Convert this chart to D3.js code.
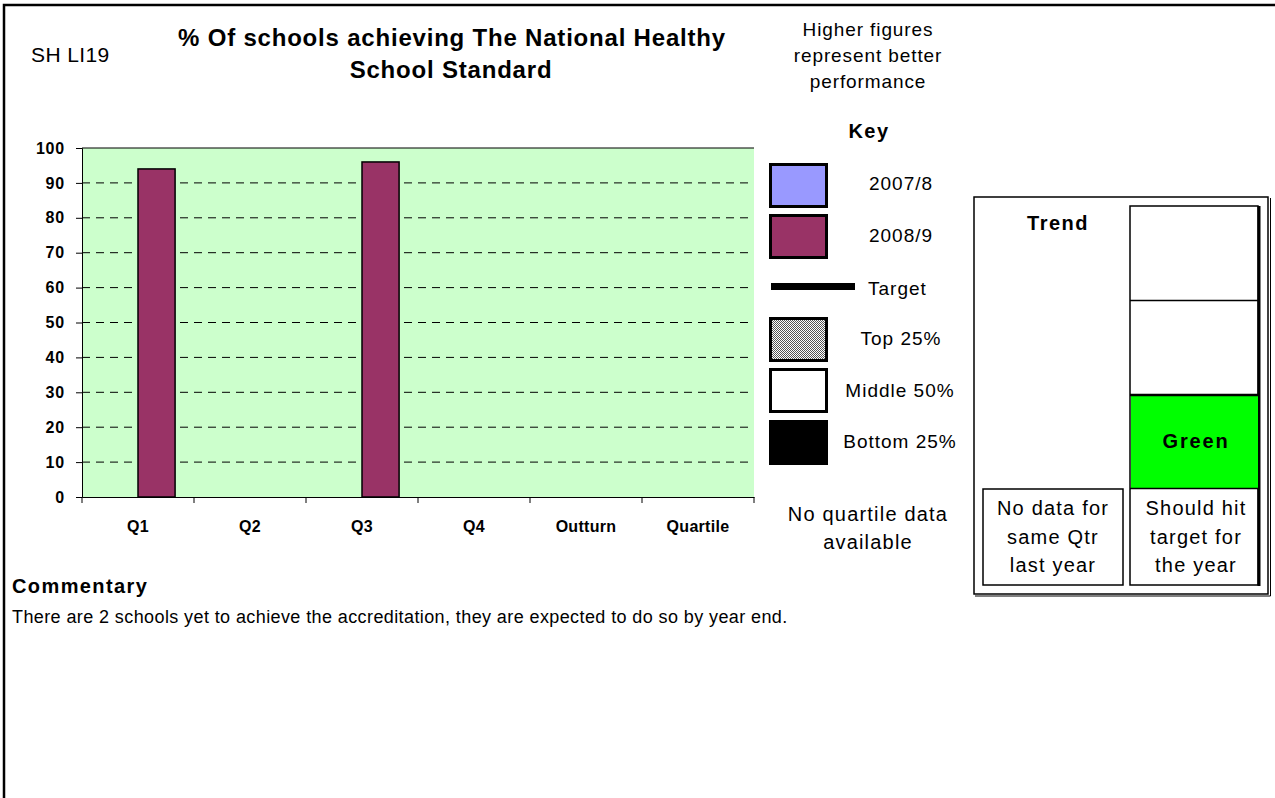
<!DOCTYPE html>
<html>
<head>
<meta charset="utf-8">
<script src="https://cdn.jsdelivr.net/npm/d3@7"></script>
<style>
  body { margin: 0; background: #fff; }
  text { font-family: "Liberation Sans", Arial, sans-serif; fill: #000; }
</style>
</head>
<body>
<div id="chart"></div>
<script>
// ----- data -------
const categories = ["Q1", "Q2", "Q3", "Q4", "Outturn", "Quartile"];
const seriesNames = ["2007/8", "2008/9"];
const values2007 = [null, null, null, null, null, null];
const values2008 = [94, null, 96, null, null, null];
const yTicks = [0, 10, 20, 30, 40, 50, 60, 70, 80, 90, 100];
const seriesColors = ["#9999ff", "#993366"];

const svg = d3.select("#chart").append("svg").attr("width", 1275).attr("height", 798);

// small helper for the plain text labels
function label(x, y, str, size, opts) {
  opts = opts || {};
  return svg.append("text")
    .attr("x", x).attr("y", y)
    .attr("text-anchor", opts.anchor || "start")
    .style("font-size", size + "px")
    .style("font-weight", opts.bold ? "bold" : "normal")
    .style("letter-spacing", (opts.ls || 0) + "px")
    .text(str);
}

// ----- page frame -------
svg.append("path")
  .attr("d", "M4,798 L4,5 L1275,5")
  .attr("fill", "none")
  .attr("stroke", "black")
  .attr("stroke-width", 2.5);

// ----- titles -------
label(31, 62, "SH LI19", 21, { ls: 0.4 });
label(452, 46, "% Of schools achieving The National Healthy", 24, { anchor: "middle", bold: true, ls: 0.8 });
label(451, 78, "School Standard", 24, { anchor: "middle", bold: true, ls: 0.8 });

["Higher figures", "represent better", "performance"].forEach((t, i) => {
  label(868, 36 + i * 26, t, 19, { anchor: "middle", ls: 0.9 });
});

// ----- chart -------
const plot = { left: 82, right: 754, top: 148, bottom: 497 };

const x = d3.scaleBand().domain(categories).range([plot.left, plot.right]);
const xs = d3.scaleBand().domain(seriesNames).range([0, x.bandwidth()]).paddingInner(0).paddingOuter(0.51);
const y = d3.scaleLinear().domain([0, 100]).range([plot.bottom, plot.top]);

svg.append("rect")
  .attr("x", plot.left).attr("y", plot.top)
  .attr("width", plot.right - plot.left).attr("height", plot.bottom - plot.top)
  .attr("fill", "#ccffcc");

// gridlines
svg.append("g").selectAll("line")
  .data(yTicks.filter(d => d > 0 && d < 100))
  .join("line")
  .attr("x1", plot.left).attr("x2", plot.right)
  .attr("y1", d => y(d)).attr("y2", d => y(d))
  .attr("stroke", "black").attr("stroke-width", 1)
  .attr("stroke-dasharray", "8,6");

svg.append("line")
  .attr("x1", plot.left).attr("x2", plot.right)
  .attr("y1", plot.top).attr("y2", plot.top)
  .attr("stroke", "black").attr("stroke-width", 1.2);

// bars
const barData = [];
categories.forEach((c, i) => {
  barData.push({ cat: c, series: seriesNames[0], value: values2007[i], color: seriesColors[0] });
  barData.push({ cat: c, series: seriesNames[1], value: values2008[i], color: seriesColors[1] });
});

svg.append("g").selectAll("rect")
  .data(barData.filter(d => d.value != null))
  .join("rect")
  .attr("x", d => x(d.cat) + xs(d.series))
  .attr("y", d => y(d.value))
  .attr("width", xs.bandwidth())
  .attr("height", d => y(0) - y(d.value))
  .attr("fill", d => d.color)
  .attr("stroke", "black").attr("stroke-width", 1.5);

// y axis
const yAxis = svg.append("g")
  .attr("transform", `translate(${plot.left},0)`)
  .call(d3.axisLeft(y).tickValues(yTicks).tickSize(6).tickPadding(11));
yAxis.select(".domain").attr("stroke", "black");
yAxis.selectAll("text").style("font-size", "16px").style("font-weight", "bold")
  .style("letter-spacing", "0.8px")
  .style("font-family", "Liberation Sans, Arial, sans-serif");

// x axis
const xAxis = svg.append("g")
  .attr("transform", `translate(0,${plot.bottom})`)
  .call(d3.axisBottom(x).tickSize(0).tickPadding(24));
xAxis.select(".domain").attr("stroke", "black");
xAxis.selectAll("text").style("font-size", "16px").style("font-weight", "bold")
  .style("letter-spacing", "0.3px")
  .style("font-family", "Liberation Sans, Arial, sans-serif");
svg.append("g").selectAll("line")
  .data(d3.range(categories.length + 1))
  .join("line")
  .attr("x1", i => plot.left + i * x.step()).attr("x2", i => plot.left + i * x.step())
  .attr("y1", plot.bottom).attr("y2", plot.bottom + 6)
  .attr("stroke", "black");

// ----- key -------
const defs = svg.append("defs");
const pat = defs.append("pattern").attr("id", "dots")
  .attr("width", 2).attr("height", 2).attr("patternUnits", "userSpaceOnUse");
pat.append("rect").attr("width", 2).attr("height", 2).attr("fill", "#ffffff");
pat.append("rect").attr("width", 1).attr("height", 1).attr("fill", "#555");
pat.append("rect").attr("x", 1).attr("y", 1).attr("width", 1).attr("height", 1).attr("fill", "#555");

label(869, 138, "Key", 20, { anchor: "middle", bold: true, ls: 1.5 });

const swatches = [
  { y: 163, fill: seriesColors[0], label: "2007/8", lx: 901, ly: 190 },
  { y: 214, fill: seriesColors[1], label: "2008/9", lx: 901, ly: 242 },
  { y: 317, fill: "url(#dots)", label: "Top 25%", lx: 901, ly: 345 },
  { y: 368, fill: "#ffffff", label: "Middle 50%", lx: 900, ly: 397 },
  { y: 420, fill: "#000000", label: "Bottom 25%", lx: 900, ly: 448 }
];
swatches.forEach(s => {
  svg.append("rect").attr("x", 770.5).attr("y", s.y + 1.5).attr("width", 56).attr("height", 42)
    .attr("fill", s.fill).attr("stroke", "black").attr("stroke-width", 3);
  label(s.lx, s.ly, s.label, 19, { anchor: "middle", ls: 1 });
});

svg.append("rect").attr("x", 771).attr("y", 283).attr("width", 84).attr("height", 7).attr("fill", "black");
label(868, 295, "Target", 19, { ls: 1 });

label(868, 521, "No quartile data", 20, { anchor: "middle", ls: 1.2 });
label(868, 549, "available", 20, { anchor: "middle", ls: 1.2 });

// ----- trend panel -------
svg.append("rect").attr("x", 974).attr("y", 197).attr("width", 294).attr("height", 397)
  .attr("fill", "white").attr("stroke", "black").attr("stroke-width", 1.5);
svg.append("path").attr("d", "M1270.5,198 L1270.5,596 L975,596")
  .attr("fill", "none").attr("stroke", "black").attr("stroke-width", 1);

label(1058, 230, "Trend", 20, { anchor: "middle", bold: true, ls: 1.5 });

svg.append("rect").attr("x", 1130).attr("y", 206).attr("width", 128).attr("height", 379)
  .attr("fill", "white").attr("stroke", "black").attr("stroke-width", 1.5);
svg.append("line").attr("x1", 1259).attr("x2", 1259).attr("y1", 206).attr("y2", 586)
  .attr("stroke", "black").attr("stroke-width", 3);
svg.append("line").attr("x1", 1130).attr("x2", 1259).attr("y1", 300.5).attr("y2", 300.5)
  .attr("stroke", "black").attr("stroke-width", 1.5);
svg.append("rect").attr("x", 1131).attr("y", 395).attr("width", 127).attr("height", 93)
  .attr("fill", "#00ff00");
svg.append("line").attr("x1", 1130).attr("x2", 1259).attr("y1", 395).attr("y2", 395)
  .attr("stroke", "black").attr("stroke-width", 2.5);
svg.append("line").attr("x1", 1130).attr("x2", 1259).attr("y1", 488.5).attr("y2", 488.5)
  .attr("stroke", "black").attr("stroke-width", 1.5);
label(1196, 448, "Green", 20, { anchor: "middle", bold: true, ls: 1.8 });

svg.append("rect").attr("x", 983).attr("y", 489).attr("width", 140).attr("height", 96)
  .attr("fill", "white").attr("stroke", "black").attr("stroke-width", 1.5);

["No data for", "same Qtr", "last year"].forEach((t, i) => {
  label(1053, 515 + i * 28.5, t, 20, { anchor: "middle", ls: 1.2 });
});
["Should hit", "target for", "the year"].forEach((t, i) => {
  label(1196, 515 + i * 28.5, t, 20, { anchor: "middle", ls: 1.2 });
});

// ----- commentary -------
label(12, 593, "Commentary", 20, { bold: true, ls: 1.4 });
label(12, 623, "There are 2 schools yet to achieve the accreditation, they are expected to do so by year end.", 18, { ls: 0.4 });
</script>
</body>
</html>
